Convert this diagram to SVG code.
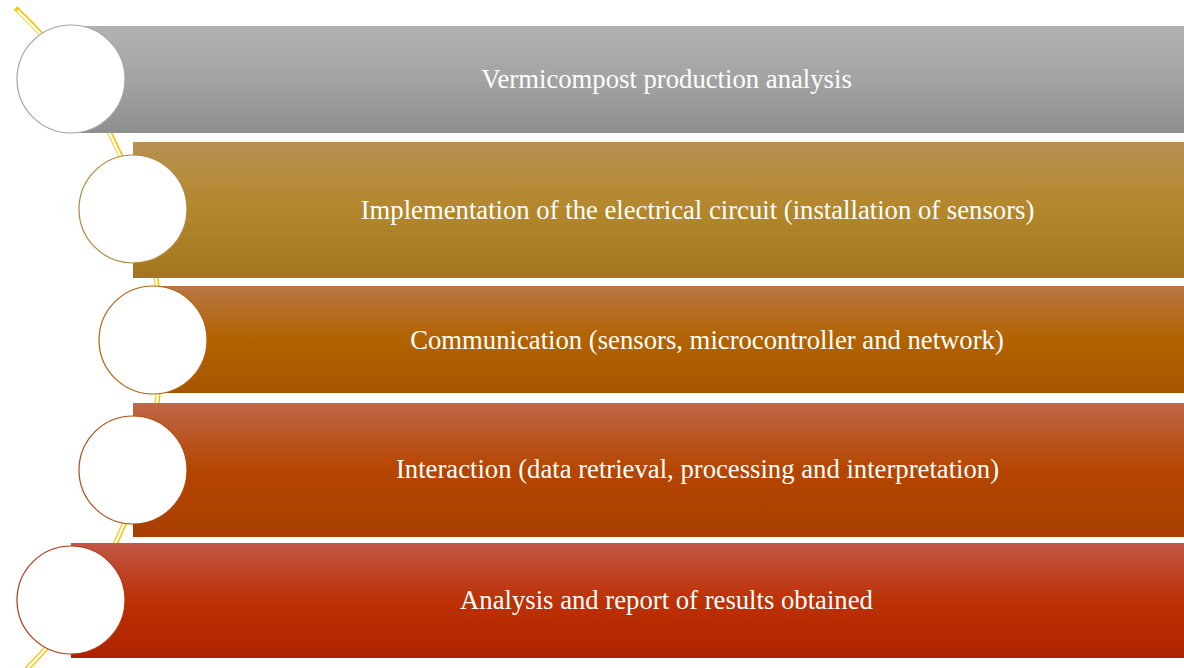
<svg xmlns="http://www.w3.org/2000/svg" width="1184" height="668" viewBox="0 0 1184 668">
<defs>
<linearGradient id="g1" x1="0" y1="0" x2="0" y2="1"><stop offset="0" stop-color="#B2B2B2"/><stop offset="0.5" stop-color="#A3A3A3"/><stop offset="1" stop-color="#8E8E8E"/></linearGradient>
<linearGradient id="g2" x1="0" y1="0" x2="0" y2="1"><stop offset="0" stop-color="#B89153"/><stop offset="0.5" stop-color="#B3872B"/><stop offset="1" stop-color="#A1761E"/></linearGradient>
<linearGradient id="g3" x1="0" y1="0" x2="0" y2="1"><stop offset="0" stop-color="#B97646"/><stop offset="0.5" stop-color="#B26200"/><stop offset="1" stop-color="#A55600"/></linearGradient>
<linearGradient id="g4" x1="0" y1="0" x2="0" y2="1"><stop offset="0" stop-color="#BF6648"/><stop offset="0.5" stop-color="#B54600"/><stop offset="1" stop-color="#A73E00"/></linearGradient>
<linearGradient id="g5" x1="0" y1="0" x2="0" y2="1"><stop offset="0" stop-color="#C15646"/><stop offset="0.5" stop-color="#BD3106"/><stop offset="1" stop-color="#AD2300"/></linearGradient>
<style>
.lbl{font-family:"Liberation Serif","Times New Roman",serif;font-size:26.7px;fill:#FFFFFF;text-anchor:middle}
.c{fill:#FFFFFF;stroke-width:1.2}
</style>
</defs>
<g id="connectors">
<path d="M 15.5 8 A 461 461 0 0 1 15.5 680" fill="none" stroke="#FFC000" stroke-width="5"/>
<path d="M 17.3 10.3 A 461 461 0 0 1 15.5 680" fill="none" stroke="#FFFFFF" stroke-width="2.4"/>
</g>
<g id="node1">
<rect x="71" y="26" width="1113" height="107" fill="url(#g1)"/>
<circle class="c" cx="71" cy="79" r="54" stroke="#A5A5A5"/>
<text class="lbl" x="666.5" y="87.5">Vermicompost production analysis</text>
</g>
<g id="node2">
<rect x="133" y="142" width="1051" height="136" fill="url(#g2)"/>
<circle class="c" cx="133" cy="209" r="54" stroke="#B3873A"/>
<text class="lbl" x="697.5" y="218.5">Implementation of the electrical circuit (installation of sensors)</text>
</g>
<g id="node3">
<rect x="153" y="286" width="1031" height="107" fill="url(#g3)"/>
<circle class="c" cx="153" cy="340" r="54" stroke="#B0630E"/>
<text class="lbl" x="707" y="348.5">Communication (sensors, microcontroller and network)</text>
</g>
<g id="node4">
<rect x="133" y="403" width="1051" height="134" fill="url(#g4)"/>
<circle class="c" cx="133" cy="470" r="54" stroke="#B04A10"/>
<text class="lbl" x="697.5" y="477.5">Interaction (data retrieval, processing and interpretation)</text>
</g>
<g id="node5">
<rect x="71" y="543" width="1113" height="115" fill="url(#g5)"/>
<circle class="c" cx="71" cy="600" r="54" stroke="#B03A14"/>
<text class="lbl" x="666.5" y="608.5">Analysis and report of results obtained</text>
</g>
</svg>
